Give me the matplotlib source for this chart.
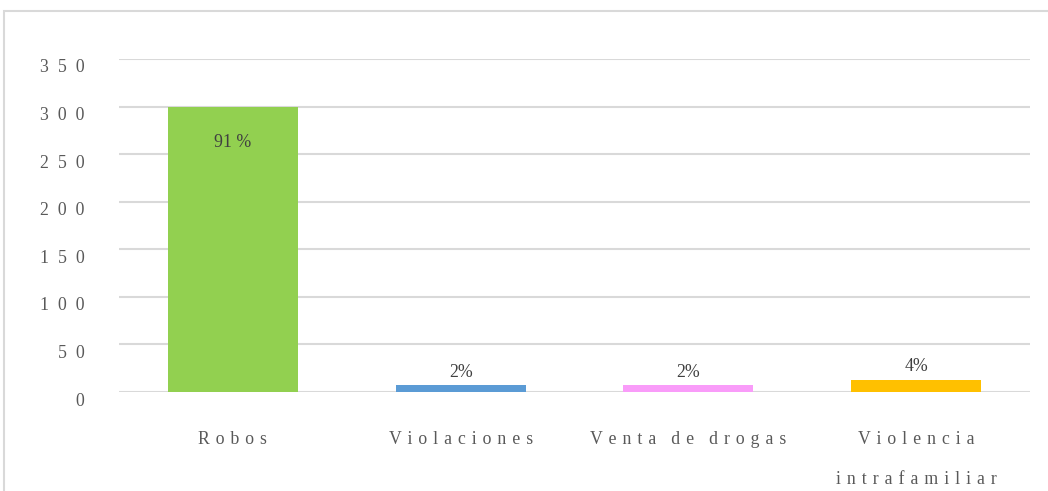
import matplotlib
matplotlib.use("Agg")
import matplotlib.pyplot as plt
import matplotlib.transforms as mtrans
from matplotlib.patches import Rectangle

categories = ["Robos", "Violaciones", "Venta de drogas", "Violencia\nintrafamiliar"]
values = [300, 7, 7, 13]
pct_labels = ["91 %", "2%", "2%", "4%"]
colors = ["#92D050", "#5B9BD5", "#F99CF9", "#FFC000"]
yticks = [0, 50, 100, 150, 200, 250, 300, 350]

plt.rcParams["font.family"] = ["Liberation Serif", "DejaVu Serif"]

GAP = " \u200A"

def spaced(s, gap=GAP):
    out = []
    for line in s.split("\n"):
        words = line.split(" ")
        out.append((gap + "  ").join(gap.join(list(w)) for w in words))
    return "\n".join(out)

fig = plt.figure(figsize=(10.48, 4.91), dpi=100)
ax = fig.add_axes([119/1048, (491-392)/491, (1030-119)/1048, (392-59)/491])

# outer frame
fig.patches.append(Rectangle((4/1048, -0.2), 1.2, (491-11)/491 + 0.2,
                             transform=fig.transFigure, fill=False,
                             edgecolor="#D9D9D9", linewidth=1.5))

x = list(range(len(categories)))
bars = ax.bar(x, values, width=0.57, color=colors, zorder=2)

ax.set_ylim(0, 350)
ax.set_xlim(-0.5, len(categories) - 0.5)
ax.set_yticks(yticks)
ax.set_yticklabels([spaced(str(v), gap="  ") for v in yticks])
ax.set_xticks(x)
ax.set_xticklabels([spaced(c) for c in categories], linespacing=2.8, va="top")
ax.tick_params(axis="both", length=0, labelsize=12.8, labelcolor="#595959")
ax.tick_params(axis="y", pad=25)
ax.tick_params(axis="x", pad=28)
ax.grid(axis="y", color="#D9D9D9", linewidth=1.5, zorder=0)
ax.set_axisbelow(True)
for sp in ax.spines.values():
    sp.set_visible(False)

# y tick labels sit slightly below their gridlines
shift = mtrans.ScaledTranslation(0, -7/100, fig.dpi_scale_trans)
for lbl in ax.get_yticklabels():
    lbl.set_transform(lbl.get_transform() + shift)

for i, (b, lab) in enumerate(zip(bars, pct_labels)):
    h = b.get_height()
    off = -26 if i == 0 else 9.5
    ax.annotate(lab, (b.get_x() + b.get_width()/2, h), xytext=(0, off),
                textcoords="offset points", ha="center", va="center",
                fontsize=12.8, color="#404040")

fig.savefig("out.png", dpi=100, facecolor="white")
